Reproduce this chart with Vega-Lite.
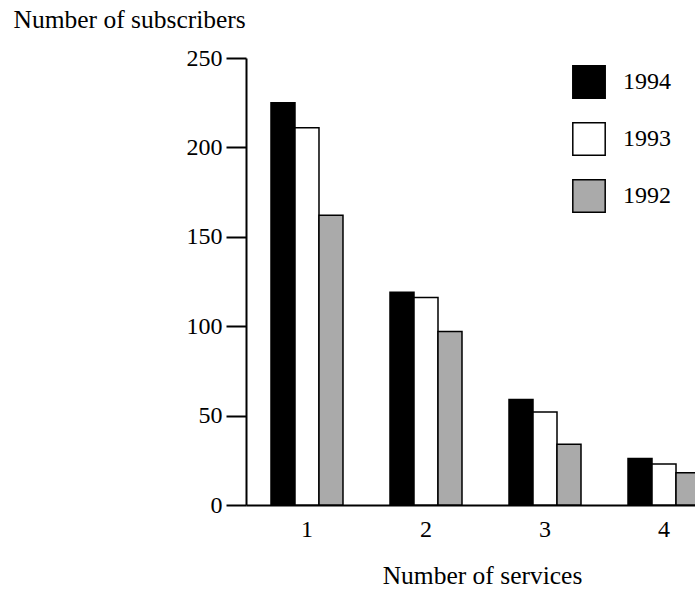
{
  "$schema": "https://vega.github.io/schema/vega-lite/v6.json",
  "autosize": {"type": "none"},
  "padding": {"left": 246, "top": 58, "right": 0, "bottom": 84},
  "width": 449,
  "height": 447,
  "background": "white",
  "config": {
    "view": {"stroke": null},
    "font": "Liberation Serif",
    "axis": {"grid": false, "domainColor": "black", "tickColor": "black", "labelColor": "black", "titleColor": "black", "labelFont": "Liberation Serif", "titleFont": "Liberation Serif", "labelFontSize": 24, "titleFontSize": 25.5, "titleFontWeight": "normal", "domainWidth": 2, "tickWidth": 2},
    "legend": {"labelFont": "Liberation Serif", "labelFontSize": 24, "labelColor": "black"}
  },
  "data": {
    "values": [
      {"services": "1", "year": "1994", "subscribers": 225},
      {"services": "1", "year": "1993", "subscribers": 211},
      {"services": "1", "year": "1992", "subscribers": 162},
      {"services": "2", "year": "1994", "subscribers": 119},
      {"services": "2", "year": "1993", "subscribers": 116},
      {"services": "2", "year": "1992", "subscribers": 97},
      {"services": "3", "year": "1994", "subscribers": 59},
      {"services": "3", "year": "1993", "subscribers": 52},
      {"services": "3", "year": "1992", "subscribers": 34},
      {"services": "4", "year": "1994", "subscribers": 26},
      {"services": "4", "year": "1993", "subscribers": 23},
      {"services": "4", "year": "1992", "subscribers": 18}
    ]
  },
  "mark": {"type": "bar", "stroke": "black", "strokeWidth": 1.5, "clip": true},
  "encoding": {
    "x": {
      "field": "services",
      "type": "nominal",
      "sort": ["1", "2", "3", "4"],
      "scale": {"range": [0, 479], "paddingInner": 0.395, "paddingOuter": 0.21},
      "axis": {"title": "Number of services", "labelAngle": 0, "ticks": false, "labelPadding": 12, "titleX": 236, "titleY": 78, "titleBaseline": "alphabetic", "titleAlign": "center"}
    },
    "xOffset": {"field": "year", "type": "nominal", "sort": ["1994", "1993", "1992"]},
    "y": {
      "field": "subscribers",
      "type": "quantitative",
      "scale": {"domain": [0, 250]},
      "axis": {"title": "Number of subscribers", "values": [0, 50, 100, 150, 200, 250], "tickSize": 20, "labelPadding": 4, "titleAngle": 0, "titleAlign": "left", "titleBaseline": "alphabetic", "titleX": -233, "titleY": -31}
    },
    "fill": {
      "field": "year",
      "type": "nominal",
      "scale": {"domain": ["1994", "1993", "1992"], "range": ["#000000", "#ffffff", "#aaaaaa"]},
      "legend": {"title": null, "orient": "none", "legendX": 326, "legendY": 7, "symbolType": "square", "symbolSize": 1050, "symbolStrokeColor": "black", "symbolStrokeWidth": 1.5, "symbolOpacity": 1, "rowPadding": 17, "labelOffset": 17, "padding": 0}
    }
  }
}
